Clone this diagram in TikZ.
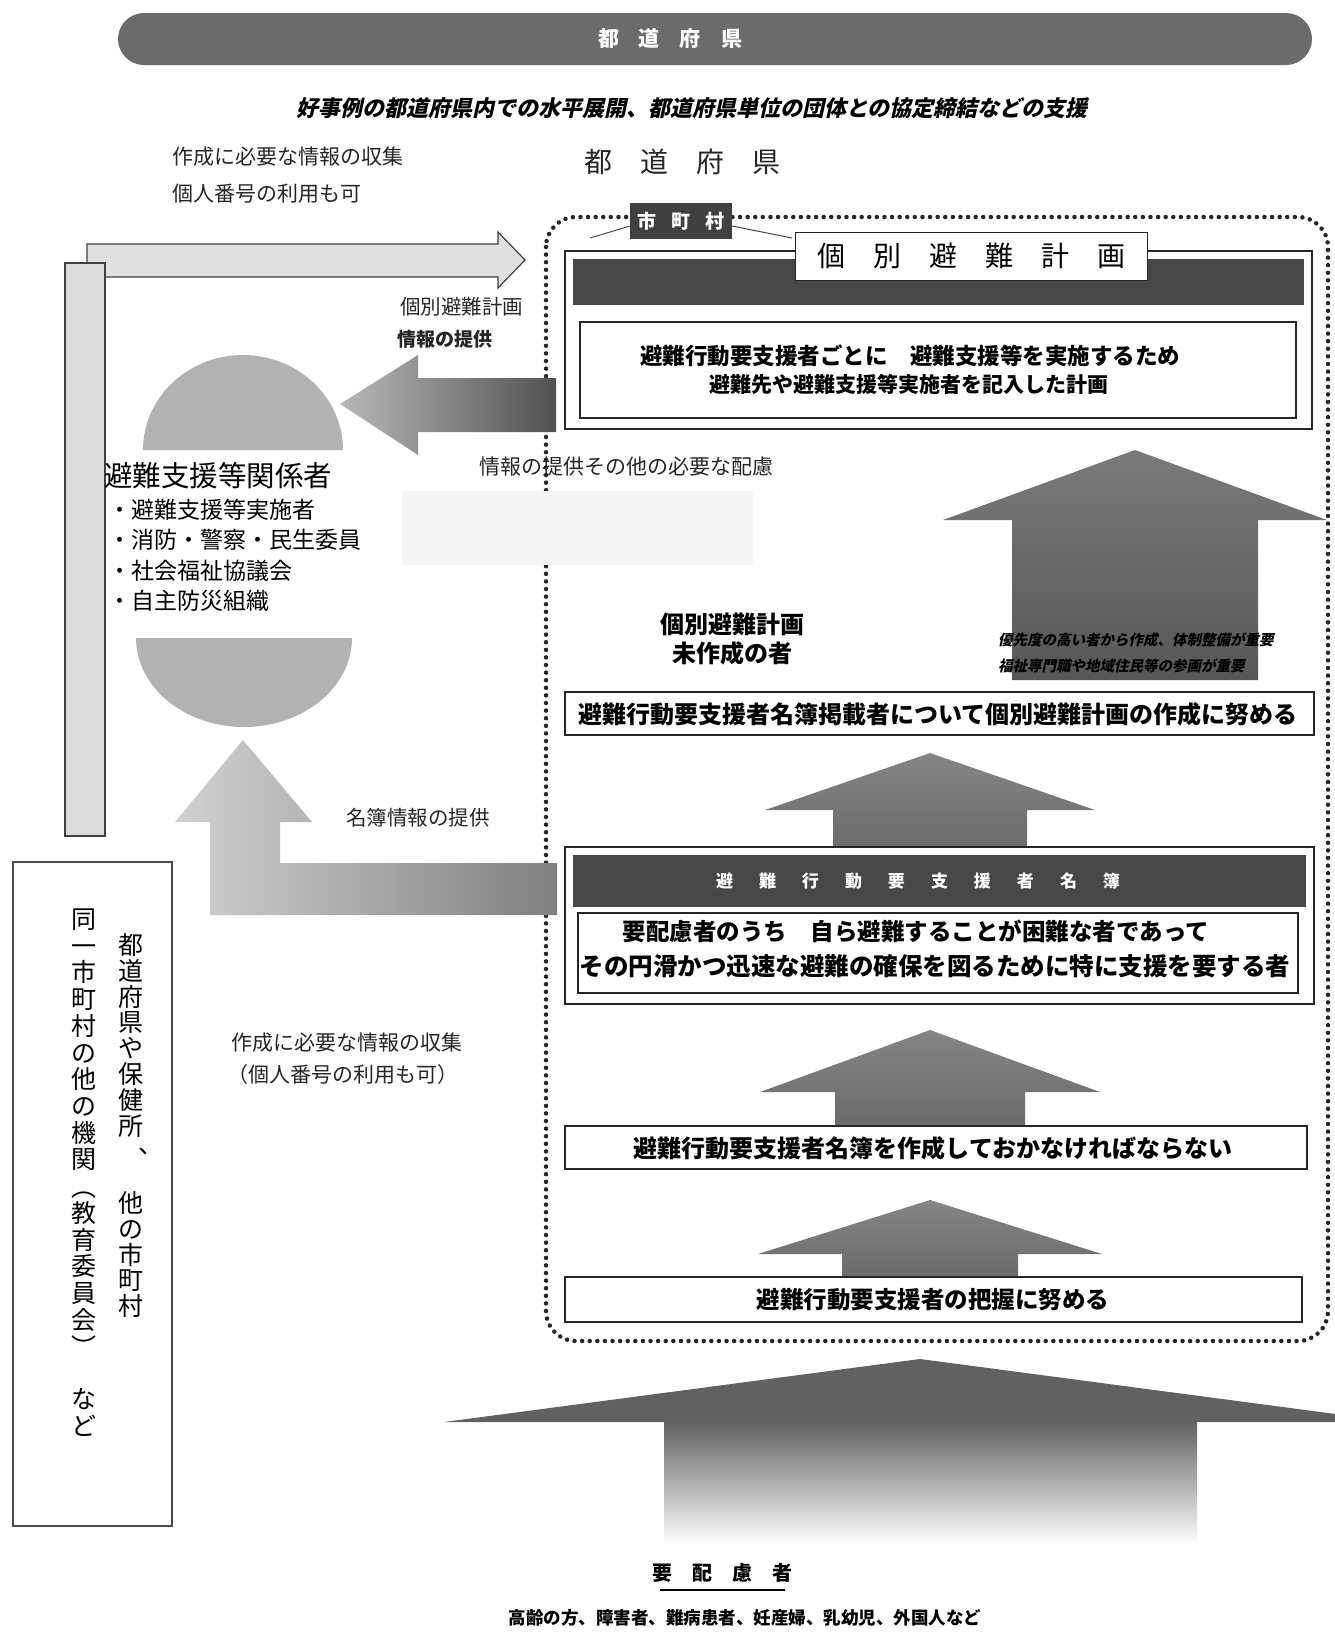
\documentclass[tikz,border=0pt]{standalone}
\usepackage{fontspec}
\newfontfamily\jp{Noto Sans CJK JP}
\newfontfamily\jpsl[FakeSlant=0.22]{Noto Sans CJK JP}
\newcommand\fsz[1]{\fontsize{#1}{#1}\selectfont}
\newcommand\gapx[1]{\hspace{#1}}
\newcommand\uparrowshape[7]{% tip x, tip y, head half, head base y, shaft half, bottom y, style
  \path[#7] (#1,#2) -- (#1+#3,#4) -- (#1+#5,#4) -- (#1+#5,#6) -- (#1-#5,#6) -- (#1-#5,#4) -- (#1-#3,#4) -- cycle;}
\tikzset{
  every node/.style={inner sep=0pt, outer sep=0pt},
  lbl/.style={font=\jp\fsz{21}, text=black!85},
  frame/.style={draw=black!85, line width=2.6pt},
  darkbar/.style={fill=black!72, draw=none},
  dotborder/.style={draw=black!85, line width=4.5pt, line cap=round, dash pattern=on 0pt off 7.6pt, rounded corners=30pt},
  blockarrow/.style={top color=black!48, bottom color=black!58, draw=none},
  lightarrow/.style={left color=black!18, right color=black!50, draw=none},
  vchar/.style={font=\jp\fsz{25}, text height=19pt, text depth=2pt},
}
\begin{document}
\begin{tikzpicture}[x=1pt, y=-1pt]
\useasboundingbox (0,0) rectangle (1335,1639);
\clip (0,0) rectangle (1335,1639);

% ---------- top banner ----------
\path[fill=black!58, rounded corners=26pt] (118,13) rectangle (1312,65);
\node[font=\jp\bfseries\fsz{21}, text=white] (banner) at (670,39) {都\gapx{20pt}道\gapx{20pt}府\gapx{20pt}県};
\node[font=\jpsl\bfseries\fsz{22}, text=black] (sub) at (692,108) {好事例の都道府県内での水平展開、都道府県単位の団体との協定締結などの支援};

% ---------- top-left labels ----------
\node[lbl, anchor=west] (c1) at (172,157) {作成に必要な情報の収集};
\node[lbl, anchor=west] (c2) at (172,194) {個人番号の利用も可};
\node[font=\jp\fsz{28}, text=black!85] (pref) at (682,162) {都　道　府　県};

% ---------- dotted municipality border ----------
\draw[dotborder] (546,217) rectangle (1328,1341);

% ---------- individual evacuation plan frame ----------
\draw[frame, fill=white] (565,251) rectangle (1312,429);
\path[darkbar] (573,259) rectangle (1304,305);
\draw[draw=black!85, line width=2.4pt] (580,322) rectangle (1296,418);
\node[font=\jp\bfseries\fsz{22.5}] (p1) at (910,356) {避難行動要支援者ごとに　避難支援等を実施するため};
\node[font=\jp\bfseries\fsz{21}] (p2) at (909,384) {避難先や避難支援等実施者を記入した計画};

% municipality tag
\draw[black!70, line width=1pt] (590,238) -- (630,226);
\draw[black!70, line width=1pt] (732,226) -- (792,238);
\path[fill=black!75] (630,203) rectangle (732,239);
\node[font=\jp\bfseries\fsz{19}, text=white] (muni) at (681,221) {市\gapx{15pt}町\gapx{15pt}村};
\node[draw=black!85, line width=1pt, fill=white, minimum width=352pt, minimum height=48pt, font=\jp\fsz{28}] (plan) at (971,256) {個　別　避　難　計　画};

% ---------- upper-left bent arrow ----------
\path[draw=black!75, line width=1.2pt, fill=black!12] (87,244) -- (498,244) -- (498,232) -- (525,260) -- (498,288) -- (498,277) -- (87,277) -- cycle;
\path[draw=black!75, line width=1.2pt, fill=black!14] (65,263) rectangle (105,836);
\node[lbl, anchor=east, font=\jp\fsz{20.5}] (q1) at (523,307) {個別避難計画};
\node[lbl, anchor=west, font=\jp\bfseries\fsz{19}] (q2) at (397,339) {情報の提供};

% ---------- left arrow (plan info to supporters) ----------
\path[left color=black!28, right color=black!68, draw=none] (340,404) -- (418,355) -- (418,378) -- (556,378) -- (556,432) -- (418,432) -- (418,455) -- cycle;

% ---------- supporters ----------
\path[fill=black!30] (143,450) .. controls (143,397.6) and (187.8,355) .. (243,355) .. controls (298.2,355) and (343,397.6) .. (343,450) -- cycle;
\node[font=\jp\fsz{28.5}, anchor=west] (sup) at (104,476) {避難支援等関係者};
\node[font=\jp\fsz{23}, anchor=west] (s1) at (108,510) {・避難支援等実施者};
\node[font=\jp\fsz{23}, anchor=west] (s2) at (108,540) {・消防・警察・民生委員};
\node[font=\jp\fsz{23}, anchor=west] (s3) at (108,571) {・社会福祉協議会};
\node[font=\jp\fsz{23}, anchor=west] (s4) at (108,601) {・自主防災組織};
\path[fill=black!30] (136,638) -- (352,638) .. controls (352,687) and (303.6,727) .. (244,727) .. controls (184.4,727) and (136,687) .. (136,638) -- cycle;

% ---------- L-shaped arrow (roster info) ----------
\path[lightarrow] (243,740) -- (312,822) -- (280,822) -- (280,863) -- (557,863) -- (557,915) -- (210,915) -- (210,822) -- (175,822) -- cycle;
\node[lbl, font=\jp\fsz{20.5}] (r1) at (418,818) {名簿情報の提供};

% ---------- left box with vertical text ----------
\draw[black!70, line width=1.2pt] (13,862) rectangle (172,1526);
\foreach \c [count=\i] in {都,道,府,県,や,保,健,所}
  \node[vchar] (va\i) at (131,946+\i*25.8-25.8) {\c};
\node[font=\jp\fsz{25}, text height=6pt, text depth=0pt] (vacomma) at (151,1150) {、};
\foreach \c [count=\i] in {他,の,市,町,村}
  \node[vchar] (vc\i) at (131,1204+\i*25.8-25.8) {\c};
\foreach \c [count=\i] in {同,一,市,町,村,の,他,の,機,関}
  \node[vchar] (vb\i) at (84,920+\i*26.7-26.7) {\c};
\node[font=\jp\fsz{25}, rotate=-90] (vbl) at (84,1187) {（};
\foreach \c [count=\i] in {教,育,委,員,会}
  \node[vchar] (vd\i) at (84,1214+\i*26.7-26.7) {\c};
\node[font=\jp\fsz{25}, rotate=-90] (vbr) at (84,1347) {）};
\foreach \c [count=\i] in {な,ど}
  \node[vchar] (ve\i) at (84,1400+\i*26.7-26.7) {\c};

% ---------- middle labels ----------
\node[lbl] (m1) at (626,467) {情報の提供その他の必要な配慮};
\path[fill=black!4] (402,491) rectangle (753,565);

% ---------- big upper-right arrow ----------
\uparrowshape{1135}{450}{192}{520}{123}{680}{top color=black!52, bottom color=black!66, draw=none}
\node[font=\jp\bfseries\fsz{24}] (u1) at (732,624) {個別避難計画};
\node[font=\jp\bfseries\fsz{24}] (u2) at (732,653) {未作成の者};
\node[font=\jpsl\bfseries\fsz{14.5}, anchor=west] (n1) at (998,640) {優先度の高い者から作成、体制整備が重要};
\node[font=\jpsl\bfseries\fsz{14.5}, anchor=west] (n2) at (998,666) {福祉専門職や地域住民等の参画が重要};

% ---------- box: make plans ----------
\draw[frame, fill=white] (565,692) rectangle (1314,735);
\node[font=\jp\bfseries\fsz{24}] (b1) at (938,714) {避難行動要支援者名簿掲載者について個別避難計画の作成に努める};

\uparrowshape{930}{753}{165}{810}{97}{848}{blockarrow}

% ---------- roster frame ----------
\draw[frame, fill=white] (565,847) rectangle (1314,1004);
\path[darkbar] (573,855) rectangle (1306,907);
\node[font=\jp\bfseries\fsz{17}, text=white] (rt) at (918,881) {避\gapx{26pt}難\gapx{26pt}行\gapx{26pt}動\gapx{26pt}要\gapx{26pt}支\gapx{26pt}援\gapx{26pt}者\gapx{26pt}名\gapx{26pt}簿};
\draw[draw=black!85, line width=2.4pt] (578,913) rectangle (1298,993);
\node[font=\jp\bfseries\fsz{23.5}] (d1) at (916,931) {要配慮者のうち　自ら避難することが困難な者であって};
\node[font=\jp\bfseries\fsz{24.5}] (d2) at (935,966) {その円滑かつ迅速な避難の確保を図るために特に支援を要する者};

\node[lbl] (i1) at (347,1043) {作成に必要な情報の収集};
\node[lbl] (i2) at (343,1075) {（個人番号の利用も可）};

\uparrowshape{930}{1030}{170}{1092}{95}{1126}{blockarrow}

\draw[frame, fill=white] (565,1126) rectangle (1307,1169);
\node[font=\jp\bfseries\fsz{24}] (b2) at (933,1148) {避難行動要支援者名簿を作成しておかなければならない};

\uparrowshape{930}{1200}{172}{1254}{88}{1277}{blockarrow}

\draw[frame, fill=white] (565,1277) rectangle (1302,1322);
\node[font=\jp\bfseries\fsz{23.5}] (b3) at (933,1300) {避難行動要支援者の把握に努める};

% ---------- big bottom arrow ----------
\path[fill=black!62] (920,1359) -- (1396,1422) -- (444,1422) -- cycle;
\path[top color=black!62, bottom color=white, draw=none] (664,1421) rectangle (1197,1545);

% ---------- persons requiring consideration ----------
\node[font=\jp\bfseries\fsz{20}] (h1) at (722,1573) {要　配　慮　者};
\draw[black, line width=2pt] (660,1590) -- (785,1590);
\node[font=\jp\bfseries\fsz{17.5}] (h2) at (745,1618) {高齢の方、障害者、難病患者、妊産婦、乳幼児、外国人など};
\end{tikzpicture}
\end{document}
